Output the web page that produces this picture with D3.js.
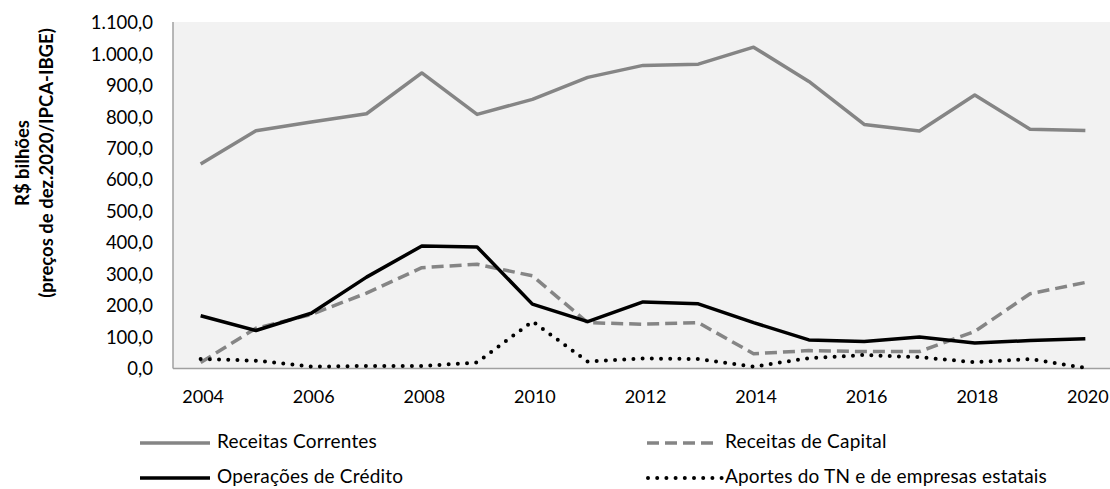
<!DOCTYPE html>
<html>
<head>
<meta charset="utf-8">
<script src="https://cdn.jsdelivr.net/npm/d3@7"></script>
<style>
  html, body { margin: 0; padding: 0; background: #fff; }
  svg { display: block; font-family: Lato, "Open Sans", sans-serif; }
</style>
</head>
<body>
<svg id="chart" width="1110" height="489"></svg>
<script>
// Anos e séries (R$ bilhões, preços de dez.2020 / IPCA-IBGE)
const years = [2004, 2005, 2006, 2007, 2008, 2009, 2010, 2011, 2012, 2013, 2014, 2015, 2016, 2017, 2018, 2019, 2020];
const receitasCorrentes = [651, 757, 785, 811, 941, 809, 857, 927, 965, 969, 1023, 914, 777, 756, 871, 762, 758];
const receitasCapital = [19, 128, 172, 240, 321, 332, 295, 146, 141, 146, 47, 57, 54, 54, 118, 238, 274];
const operacoesCredito = [168, 121, 176, 291, 390, 387, 205, 149, 212, 206, 146, 91, 86, 100, 81, 89, 95];
const aportesTN = [30, 25, 6, 8, 8, 19, 150, 22, 32, 30, 6, 33, 43, 36, 20, 30, 2];
const yTicks = [0, 100, 200, 300, 400, 500, 600, 700, 800, 900, 1000, 1100];
const xTickYears = [2004, 2006, 2008, 2010, 2012, 2014, 2016, 2018, 2020];
const seriesNames = ["Receitas Correntes", "Receitas de Capital", "Operações de Crédito", "Aportes do TN e de empresas estatais"];

const svg = d3.select("#chart");
const plot = { left: 173, right: 1113, top: 22, bottom: 368.5 };

const x = d3.scalePoint().domain(years).range([plot.left, plot.right]).padding(0.5);
const y = d3.scaleLinear().domain([0, 1100]).range([plot.bottom, 23]);

const fmt = v => {
  const s = d3.format(",.1f")(v);
  return s.replace(/,/g, "#").replace(".", ",").replace(/#/g, ".");
};

// fundo da área de plotagem
svg.append("rect")
  .attr("x", plot.left).attr("y", plot.top)
  .attr("width", 1110 - plot.left).attr("height", plot.bottom - plot.top)
  .attr("fill", "#f2f2f2");

// eixo Y
const yAxis = d3.axisLeft(y).tickValues(yTicks).tickFormat(fmt).tickSize(0).tickPadding(20);
const gy = svg.append("g").attr("transform", `translate(${plot.left},0)`).call(yAxis);
gy.select(".domain").remove();
gy.selectAll("text").attr("font-size", 18.5).attr("fill", "#000").attr("font-family", "Lato, sans-serif");

// eixo X
const xAxis = d3.axisBottom(x).tickValues(xTickYears).tickSize(0).tickPadding(22);
const gx = svg.append("g").attr("transform", `translate(2,${plot.bottom})`).call(xAxis);
gx.select(".domain").remove();
gx.selectAll("text").attr("font-size", 18).attr("fill", "#000").attr("font-family", "Lato, sans-serif");

// linhas dos eixos
svg.append("line")
  .attr("x1", plot.left).attr("x2", plot.left)
  .attr("y1", plot.top).attr("y2", plot.bottom)
  .attr("stroke", "#a0a0a0").attr("stroke-width", 1.5);
svg.append("line")
  .attr("x1", plot.left).attr("x2", 1110)
  .attr("y1", plot.bottom).attr("y2", plot.bottom)
  .attr("stroke", "#a0a0a0").attr("stroke-width", 1.5);

// título do eixo Y
const title = svg.append("text")
  .attr("transform", "translate(0,163) rotate(-90)")
  .attr("text-anchor", "middle")
  .attr("font-weight", "bold")
  .attr("font-size", 18.5)
  .attr("fill", "#000");
title.append("tspan").attr("x", 0).attr("y", 29).text("R$ bilhões");
title.append("tspan").attr("x", 0).attr("y", 53).text("(preços de dez.2020/IPCA-IBGE)");

// séries
const styles = [
  { values: receitasCorrentes, color: "#858585", dash: null, cap: "butt" },
  { values: receitasCapital, color: "#858585", dash: "12,6", cap: "butt" },
  { values: operacoesCredito, color: "#000", dash: null, cap: "butt" },
  { values: aportesTN, color: "#000", dash: "0,9.2", cap: "round" }
];

const line = d3.line().x((d, i) => x(years[i])).y(d => y(d));

styles.forEach(s => {
  svg.append("path")
    .datum(s.values)
    .attr("d", line)
    .attr("fill", "none")
    .attr("stroke", s.color)
    .attr("stroke-width", s.cap === "round" ? 4 : 3.5)
    .attr("stroke-linejoin", "round")
    .attr("stroke-linecap", s.cap)
    .attr("stroke-dasharray", s.dash);
});

// legenda
const legendPos = [
  { x1: 140, x2: 210, tx: 217, y: 442 },
  { x1: 647, x2: 713, tx: 725, y: 442 },
  { x1: 140, x2: 210, tx: 217, y: 477 },
  { x1: 648, x2: 722, tx: 725, y: 477 }
];
seriesNames.forEach((name, i) => {
  const p = legendPos[i], s = styles[i];
  svg.append("line")
    .attr("x1", p.x1).attr("x2", p.x2).attr("y1", p.y + 1).attr("y2", p.y + 1)
    .attr("stroke", s.color).attr("stroke-width", s.cap === "round" ? 4 : 3.5)
    .attr("stroke-linecap", s.cap)
    .attr("stroke-dasharray", s.dash);
  svg.append("text")
    .attr("x", p.tx).attr("y", p.y)
    .attr("dy", "0.33em")
    .attr("font-size", 19)
    .attr("letter-spacing", 0.2)
    .attr("fill", "#000")
    .text(name);
});
</script>
</body>
</html>
